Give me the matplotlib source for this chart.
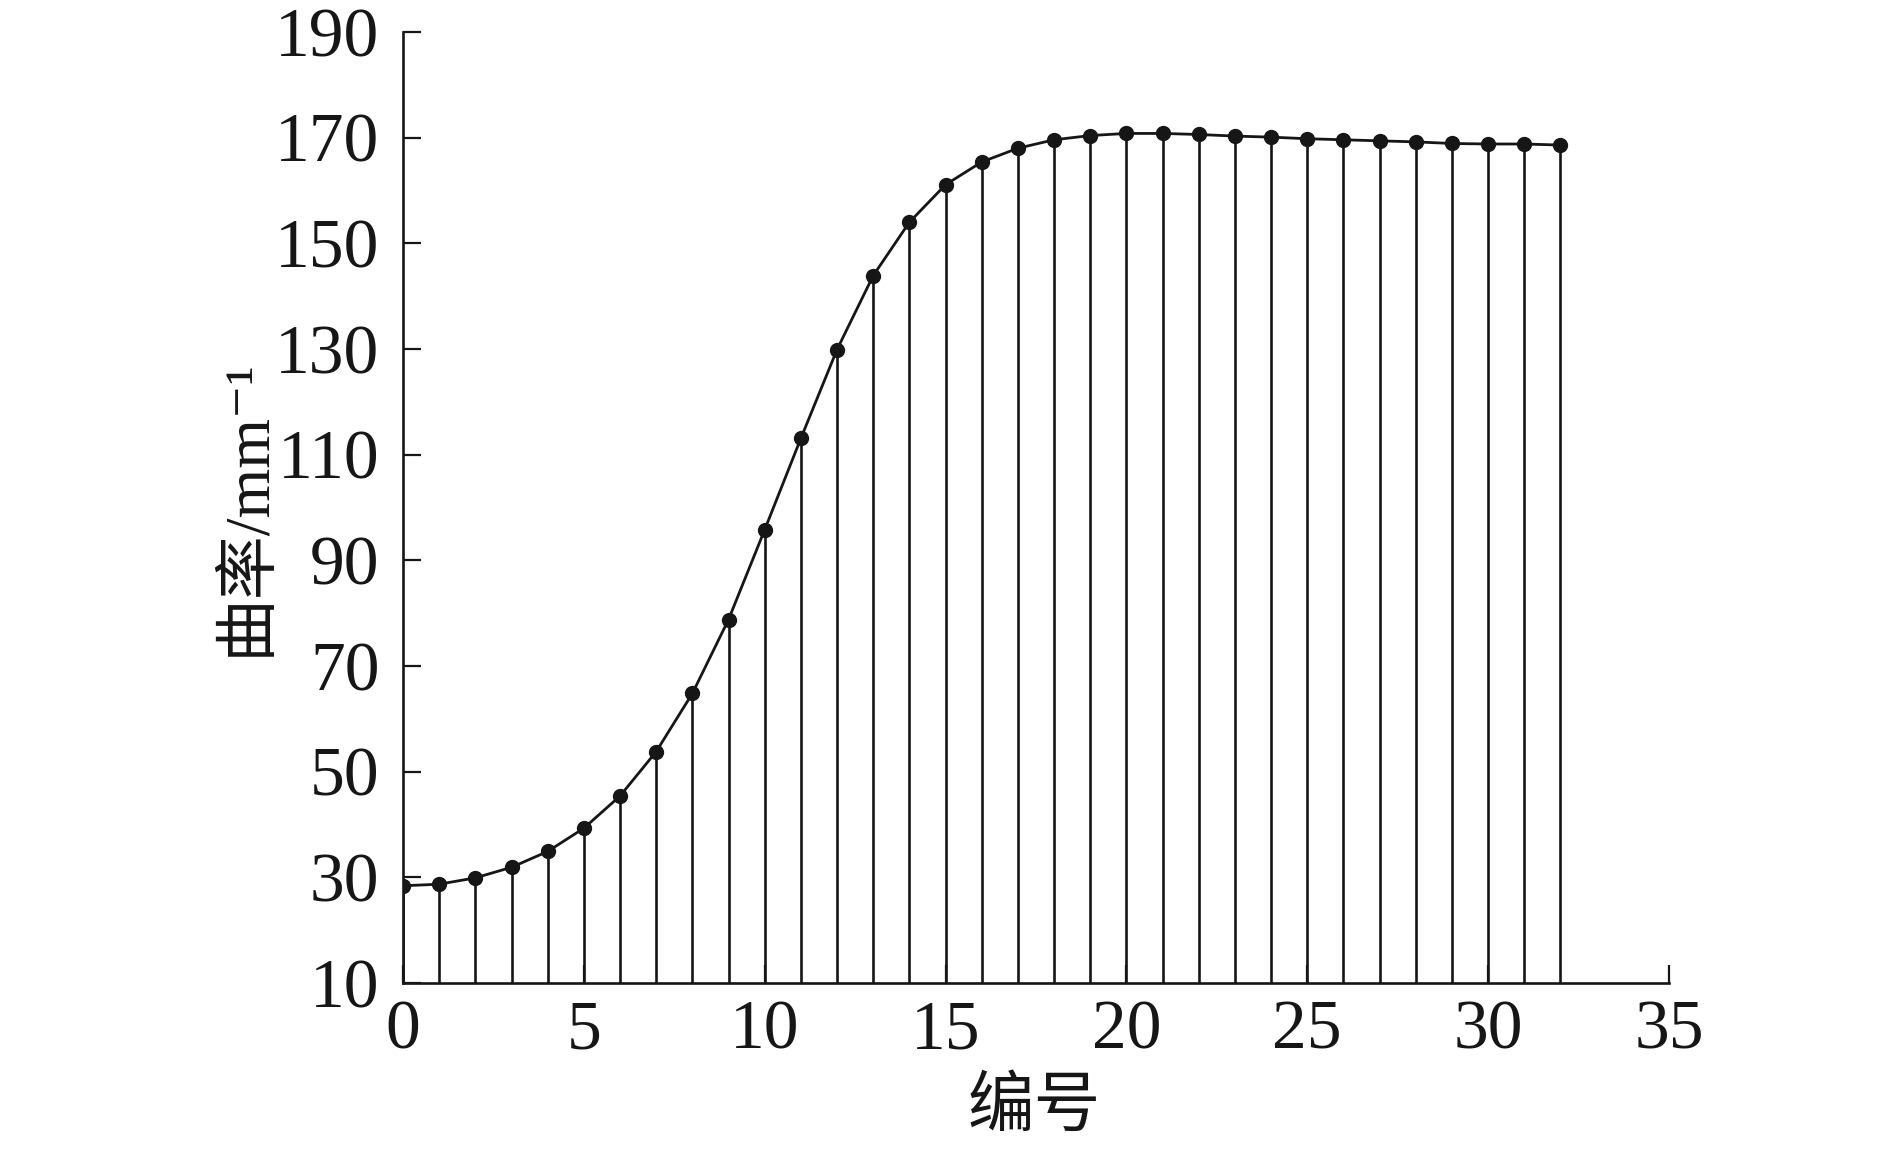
import matplotlib
matplotlib.use("Agg")
import matplotlib.pyplot as plt
import numpy as np

# Data
index = list(range(33))
curvature = [28.4, 28.7, 29.9, 31.9, 34.9, 39.3, 45.4, 53.8, 64.8, 78.8,
             95.8, 113.1, 129.9, 143.9, 154.0, 161.1, 165.4, 168.0, 169.6, 170.4,
             170.8, 170.8, 170.6, 170.3, 170.1, 169.8, 169.6, 169.4, 169.2, 168.9,
             168.8, 168.8, 168.6]
xticks = [0, 5, 10, 15, 20, 25, 30, 35]
yticks = [10, 30, 50, 70, 90, 110, 130, 150, 170, 190]
xlabel = "编号"
ylabel = "曲率/mm⁻¹"

ink = "#161616"
serif = ["Liberation Serif", "Noto Sans CJK SC", "DejaVu Serif"]
cjk = ["Noto Sans CJK SC", "Liberation Serif", "DejaVu Serif"]

fig = plt.figure(figsize=(18.9, 11.5), dpi=100)
ax = fig.add_axes([403/1890, 1-983/1150, (1669-403)/1890, (983-32)/1150])

ax.vlines(index, 10, curvature, colors=ink, linewidth=1.9, zorder=2)
ax.plot(index, curvature, color=ink, linewidth=2.0, marker="o",
        markersize=10, markerfacecolor=ink, markeredgecolor=ink, zorder=3)

ax.set_xlim(0, 35)
ax.set_ylim(10, 190)
ax.set_xticks(xticks)
ax.set_yticks(yticks)
ax.set_xticklabels([str(t) for t in xticks], family=serif, fontsize=50)
ax.set_yticklabels([str(t) for t in yticks], family=serif, fontsize=50)

for s in ["top", "right"]:
    ax.spines[s].set_visible(False)
for s in ["left", "bottom"]:
    ax.spines[s].set_linewidth(1.9)
    ax.spines[s].set_color(ink)

ax.tick_params(axis="both", direction="in", length=13, width=1.6, colors=ink)
ax.tick_params(axis="y", pad=17)
ax.tick_params(axis="x", pad=12)

fig.text(1034/1890, 1-1107/1150, xlabel, family=cjk, fontsize=48,
         ha="center", va="center", color=ink)
fig.text(248/1890, 1-507/1150, ylabel, family=serif, fontsize=46,
         ha="center", va="center", rotation=90, color=ink)

fig.savefig("out.png", dpi=100, facecolor="white")
